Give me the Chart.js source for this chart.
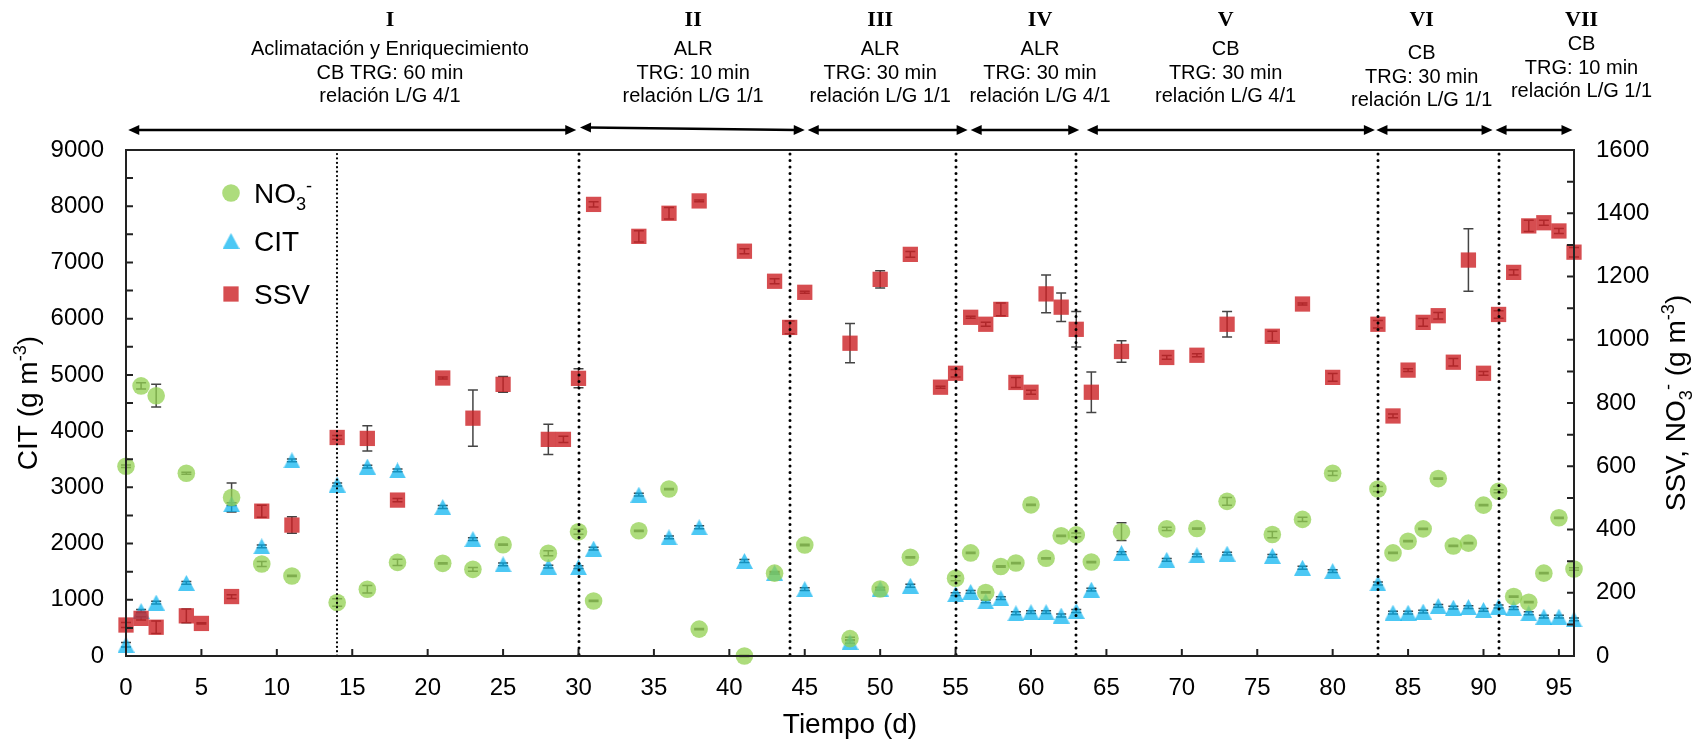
<!DOCTYPE html>
<html>
<head>
<meta charset="utf-8">
<script src="https://cdn.jsdelivr.net/npm/chart.js@4"></script>
<style>
  html, body { margin: 0; padding: 0; background: #fff; }
  #wrap { width: 1703px; height: 745px; }
</style>
</head>
<body>
<div id="wrap"><canvas id="grafico" width="1703" height="745"></canvas></div>
<script>
// días de muestreo de CIT y nitrato
const dias = [0,1,2,4,7,9,11,14,16,18,21,23,25,28,30,31,34,36,38,41,43,45,48,50,52,55,56,57,58,59,60,61,62,63,64,66,69,71,73,76,78,80,83,84,85,86,87,88,89,90,91,92,93,94,95,96];

// CIT (g m-3), eje izquierdo
const cit = [200,800,950,1300,2700,1950,3480,3050,3370,3300,2650,2080,1630,1590,1580,1910,2870,2110,2290,1690,1480,1190,250,1200,1250,1100,1140,970,1030,760,780,780,720,800,1180,1830,1710,1790,1820,1780,1570,1510,1290,770,770,790,890,860,870,820,880,850,760,700,700,650];
const errCit = [40,25,25,25,25,25,25,25,25,25,25,25,25,25,25,25,25,25,25,25,25,25,25,25,25,25,25,25,25,25,25,25,25,25,25,25,25,25,25,25,25,25,25,25,25,25,25,25,25,25,25,25,25,25,25,25];

// NO3- (g m-3), eje derecho
const no3 = [600,854,823,578,501,291,253,169,211,296,293,274,352,325,393,174,396,528,85,0,262,351,55,212,312,246,326,201,283,294,478,309,380,383,297,393,402,403,489,384,432,578,528,326,363,402,561,348,357,477,521,188,170,262,437,275];
const errNo3 = [4,10,36,3,46,8,2,12,12,10,2,6,2,8,8,2,2,2,2,2,3,2,4,3,2,8,2,2,2,2,2,2,2,6,2,28,5,2,12,10,7,7,8,2,2,2,2,2,2,2,5,2,2,2,2,4];

// SSV (g m-3), eje derecho
const diasSsv = [0,1,2,4,5,7,9,11,14,16,18,21,23,25,28,29,30,31,34,36,38,41,43,44,45,48,50,52,54,55,56,57,58,59,60,61,62,63,64,66,69,71,73,76,78,80,83,84,85,86,87,88,89,90,91,92,93,94,95,96];
const ssv = [98,119,91,127,103,188,458,414,691,688,493,879,752,859,685,685,878,1428,1327,1400,1439,1280,1185,1039,1150,989,1191,1270,850,894,1071,1049,1096,865,834,1145,1103,1033,834,963,944,951,1049,1011,1113,881,1049,759,904,1055,1076,929,1252,894,1080,1213,1360,1370,1344,1277];
const errSsv = [8,5,20,22,2,6,19,26,6,40,5,3,89,25,48,10,30,8,18,18,3,8,8,20,3,62,27,9,3,12,3,6,20,16,6,60,45,56,64,34,6,5,40,16,3,12,12,6,4,12,10,12,99,6,12,8,18,8,8,15];

// etapas de operación
const cambiosEtapa = [14, 30, 44, 55, 63, 83, 91];
const etapas = ['I', 'II', 'III', 'IV', 'V', 'VI', 'VII'];
const condiciones = [
  ['Aclimatación y Enriquecimiento', 'CB TRG: 60 min', 'relación L/G 4/1'],
  ['ALR', 'TRG: 10 min', 'relación L/G 1/1'],
  ['ALR', 'TRG: 30 min', 'relación L/G 1/1'],
  ['ALR', 'TRG: 30 min', 'relación L/G 4/1'],
  ['CB', 'TRG: 30 min', 'relación L/G 4/1'],
  ['CB', 'TRG: 30 min', 'relación L/G 1/1'],
  ['CB', 'TRG: 10 min', 'relación L/G 1/1']
];

const SANS = "'Liberation Sans', Arial, sans-serif";
const SERIF = "'Liberation Serif', 'Times New Roman', serif";
Chart.defaults.font.family = SANS;

const puntos = (xs, ys) => xs.map((d, i) => ({ x: d, y: ys[i] }));

// marcador triangular (un poco más alto que equilátero)
function triangulo(color) {
  const c = document.createElement('canvas');
  c.width = 17;
  c.height = 16;
  const g = c.getContext('2d');
  g.fillStyle = color;
  g.beginPath();
  g.moveTo(8.5, 0);
  g.lineTo(17, 16);
  g.lineTo(0, 16);
  g.closePath();
  g.fill();
  return c;
}

// texto con subíndices y superíndices
function anchoTexto(ctx, partes, size) {
  let w = 0;
  for (const p of partes) {
    const s = p.sub || p.sup ? size * 0.65 : size;
    ctx.font = s + 'px ' + SANS;
    w += ctx.measureText(p.t).width;
  }
  return w;
}
function textoRico(ctx, partes, x, y, size) {
  let cx = x;
  ctx.textAlign = 'left';
  ctx.textBaseline = 'alphabetic';
  for (const p of partes) {
    const s = p.sub || p.sup ? size * 0.65 : size;
    const dy = p.sub ? size * 0.25 : p.sup ? -size * 0.38 : 0;
    ctx.font = s + 'px ' + SANS;
    ctx.fillText(p.t, cx, y + dy);
    cx += ctx.measureText(p.t).width;
  }
}

function punta(ctx, x, y, ang) {
  ctx.save();
  ctx.translate(x, y);
  ctx.rotate(ang);
  ctx.beginPath();
  ctx.moveTo(0, 0);
  ctx.lineTo(-11, -5);
  ctx.lineTo(-11, 5);
  ctx.closePath();
  ctx.fill();
  ctx.restore();
}
function flecha(ctx, x1, y1, x2, y2) {
  const a = Math.atan2(y2 - y1, x2 - x1);
  ctx.beginPath();
  ctx.moveTo(x1 + 9 * Math.cos(a), y1 + 9 * Math.sin(a));
  ctx.lineTo(x2 - 9 * Math.cos(a), y2 - 9 * Math.sin(a));
  ctx.stroke();
  punta(ctx, x1, y1, a + Math.PI);
  punta(ctx, x2, y2, a);
}

const extras = {
  id: 'extras',
  beforeDatasetsDraw(chart) {
    // barras de error bajo los marcadores
    const ctx = chart.ctx;
    const xs = chart.scales.x;
    ctx.save();
    ctx.strokeStyle = '#444';
    ctx.lineWidth = 1.5;
    chart.data.datasets.forEach(ds => {
      const ys = chart.scales[ds.yAxisID];
      ds.data.forEach((p, j) => {
        const e = ds.errores[j];
        const x = xs.getPixelForValue(p.x);
        const y1 = ys.getPixelForValue(p.y - e);
        const y2 = ys.getPixelForValue(p.y + e);
        ctx.beginPath();
        ctx.moveTo(x, y1); ctx.lineTo(x, y2);
        ctx.moveTo(x - 5, y1); ctx.lineTo(x + 5, y1);
        ctx.moveTo(x - 5, y2); ctx.lineTo(x + 5, y2);
        ctx.stroke();
      });
    });
    ctx.restore();
  },
  afterDatasetsDraw(chart) {
    const ctx = chart.ctx;
    const { left, right, top, bottom } = chart.chartArea;
    const xs = chart.scales.x, yl = chart.scales.y, yr = chart.scales.y2;
    ctx.save();

    // líneas punteadas de cambio de etapa
    ctx.strokeStyle = '#000';
    ctx.lineCap = 'round';
    cambiosEtapa.forEach((d, i) => {
      const x = Math.round(xs.getPixelForValue(d));
      ctx.lineWidth = i === 0 ? 2.2 : 3;
      ctx.setLineDash(i === 0 ? [0.1, 4.3] : [0.1, 6.4]);
      ctx.beginPath();
      ctx.moveTo(x, top + 4);
      ctx.lineTo(x, bottom);
      ctx.stroke();
    });
    ctx.setLineDash([]);
    ctx.lineCap = 'butt';

    // marco y marcas hacia dentro
    ctx.strokeStyle = '#222';
    ctx.lineWidth = 2;
    ctx.strokeRect(left, top, right - left, bottom - top);
    ctx.beginPath();
    for (let v = 0; v <= 9000; v += 500) {
      const y = yl.getPixelForValue(v);
      ctx.moveTo(left, y); ctx.lineTo(left + 7, y);
    }
    for (let v = 0; v <= 1600; v += 100) {
      const y = yr.getPixelForValue(v);
      ctx.moveTo(right, y); ctx.lineTo(right - 7, y);
    }
    for (let v = 0; v <= 95; v += 5) {
      const x = xs.getPixelForValue(v);
      ctx.moveTo(x, bottom); ctx.lineTo(x, bottom - 7);
    }
    ctx.stroke();
    ctx.restore();
  },
  afterDraw(chart) {
    const ctx = chart.ctx;
    const { left, right, top, bottom } = chart.chartArea;
    const xs = chart.scales.x;
    ctx.save();
    ctx.fillStyle = '#000';
    ctx.strokeStyle = '#000';

    // flechas de cada etapa
    const tramos = [[0.15, 29.85], [30.1, 45.0], [45.2, 55.8], [56.0, 63.2], [63.7, 82.8], [82.9, 90.6], [90.8, 95.9]];
    ctx.lineWidth = 2.5;
    tramos.forEach(([a, b], i) => {
      const yA = i === 1 ? 127.5 : 130, yB = 130;
      flecha(ctx, xs.getPixelForValue(a), yA, xs.getPixelForValue(b), yB);
    });

    // rótulos de etapa
    const centros = [17.5, 37.6, 50.0, 60.6, 72.9, 85.9, 96.5];
    const desplaz = [0, 0, 0, 0, 0, 4, -5];
    etapas.forEach((num, i) => {
      const cx = xs.getPixelForValue(centros[i]);
      ctx.textAlign = 'center';
      ctx.textBaseline = 'middle';
      ctx.font = 'bold 22px ' + SERIF;
      ctx.fillText(num, cx, 20);
      ctx.font = '20px ' + SANS;
      condiciones[i].forEach((t, k) => {
        ctx.fillText(t, cx, 49.5 + k * 23.5 + desplaz[i]);
      });
    });

    // títulos de los ejes
    ctx.font = '28px ' + SANS;
    ctx.textAlign = 'center';
    ctx.textBaseline = 'alphabetic';
    ctx.fillText('Tiempo (d)', (left + right) / 2, 733);

    const midY = (top + bottom) / 2;
    const tituloIzq = [{ t: 'CIT (g m' }, { t: '-3', sup: true }, { t: ')' }];
    const tituloDer = [{ t: 'SSV, NO' }, { t: '3', sub: true }, { t: '-', sup: true }, { t: ' (g m' }, { t: '-3', sup: true }, { t: ')' }];
    [[tituloIzq, 37], [tituloDer, 1685]].forEach(([partes, x]) => {
      ctx.save();
      ctx.translate(x, midY);
      ctx.rotate(-Math.PI / 2);
      const w = anchoTexto(ctx, partes, 28);
      textoRico(ctx, partes, -w / 2, 0, 28);
      ctx.restore();
    });

    // leyenda
    const ds = chart.data.datasets;
    const filas = [
      { y: 193, partes: [{ t: 'NO' }, { t: '3', sub: true }, { t: '-', sup: true }] },
      { y: 241, partes: [{ t: 'CIT' }] },
      { y: 294, partes: [{ t: 'SSV' }] }
    ];
    filas.forEach((f, i) => {
      const d = ds[i];
      ctx.fillStyle = d.backgroundColor;
      Chart.helpers.drawPoint(ctx, { pointStyle: d.pointStyle, radius: d.pointRadius, borderWidth: 0, rotation: 0 }, 231, f.y);
      ctx.fillStyle = '#000';
      textoRico(ctx, f.partes, 254, f.y + 10, 28);
    });
    ctx.restore();
  }
};

const fuenteTicks = { size: 24, family: SANS };

new Chart(document.getElementById('grafico'), {
  type: 'scatter',
  data: {
    datasets: [
      {
        label: 'NO3-', data: puntos(dias, no3), errores: errNo3, yAxisID: 'y2',
        pointStyle: 'circle', pointRadius: 8.8, backgroundColor: 'rgba(146,208,80,0.75)',
        borderWidth: 0, order: 0, clip: false
      },
      {
        label: 'CIT', data: puntos(dias, cit), errores: errCit, yAxisID: 'y',
        pointStyle: triangulo('rgba(0,176,240,0.7)'), pointRadius: 9, backgroundColor: 'rgba(0,176,240,0.7)',
        borderWidth: 0, order: 2, clip: false
      },
      {
        label: 'SSV', data: puntos(diasSsv, ssv), errores: errSsv, yAxisID: 'y2',
        pointStyle: 'rect', pointRadius: 10.8, backgroundColor: 'rgba(204,32,36,0.8)',
        borderWidth: 0, order: 1, clip: false
      }
    ]
  },
  options: {
    responsive: false,
    animation: false,
    devicePixelRatio: 1,
    events: [],
    layout: { padding: { top: 150, left: 0, right: 0, bottom: 0 } },
    plugins: { legend: { display: false }, tooltip: { enabled: false } },
    scales: {
      x: {
        type: 'linear', position: 'bottom', min: 0, max: 96,
        afterFit: s => { s.height = 89; },
        ticks: { stepSize: 5, includeBounds: false, autoSkip: false, maxRotation: 0, padding: 18, color: '#000', font: fuenteTicks },
        grid: { display: false, drawTicks: false },
        border: { display: false }
      },
      y: {
        type: 'linear', position: 'left', min: 0, max: 9000,
        afterFit: s => { s.width = 126; },
        ticks: { stepSize: 500, autoSkip: false, padding: 22, color: '#000', font: fuenteTicks,
                 callback: v => (v % 1000 === 0 ? String(v) : '') },
        grid: { display: false, drawTicks: false },
        border: { display: false }
      },
      y2: {
        type: 'linear', position: 'right', min: 0, max: 1600,
        afterFit: s => { s.width = 129; },
        ticks: { stepSize: 100, autoSkip: false, padding: 22, color: '#000', font: fuenteTicks,
                 callback: v => (v % 200 === 0 ? String(v) : '') },
        grid: { display: false, drawTicks: false },
        border: { display: false }
      }
    }
  },
  plugins: [extras]
});
</script>
</body>
</html>
